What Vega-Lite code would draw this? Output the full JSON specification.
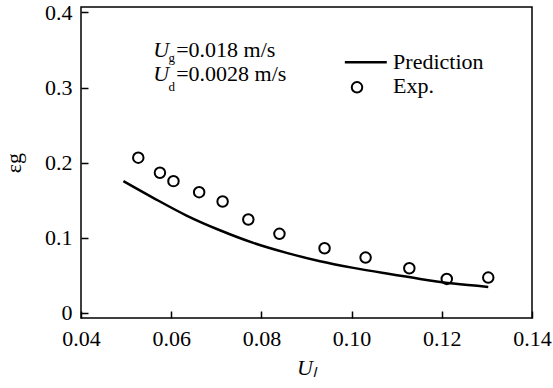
{
  "$schema": "https://vega.github.io/schema/vega-lite/v6.json",
  "width": 451,
  "height": 311,
  "autosize": {"type": "none"},
  "padding": {"left": 81, "top": 7, "right": 21, "bottom": 70},
  "background": "white",
  "config": {
    "view": {"stroke": "#000", "strokeWidth": 1.5},
    "font": "Liberation Serif"
  },
  "datasets": {
    "exp": [
      {"x": 0.0527, "y": 0.2067},
      {"x": 0.0575, "y": 0.1867},
      {"x": 0.0605, "y": 0.1755},
      {"x": 0.0662, "y": 0.1608},
      {"x": 0.0714, "y": 0.1484},
      {"x": 0.0771, "y": 0.1244},
      {"x": 0.0840, "y": 0.1053},
      {"x": 0.0940, "y": 0.0861},
      {"x": 0.1031, "y": 0.0737},
      {"x": 0.1128, "y": 0.0595},
      {"x": 0.1211, "y": 0.0453},
      {"x": 0.1303, "y": 0.0471}
    ],
    "pred": [
      {"x": 0.0494, "y": 0.1755},
      {"x": 0.0560, "y": 0.1533},
      {"x": 0.0634, "y": 0.1297},
      {"x": 0.0708, "y": 0.1101},
      {"x": 0.0782, "y": 0.0933},
      {"x": 0.0856, "y": 0.0800},
      {"x": 0.0930, "y": 0.0688},
      {"x": 0.1004, "y": 0.0600},
      {"x": 0.1078, "y": 0.0524},
      {"x": 0.1152, "y": 0.0453},
      {"x": 0.1226, "y": 0.0391},
      {"x": 0.1303, "y": 0.0347}
    ],
    "legendLine": [{"x": 0.0985, "x2": 0.1078, "y": 0.3337}],
    "legendDot": [{"x": 0.1012, "y": 0.3004}],
    "italicText": [
      {"x": 0.0560, "y": 0.3404, "t": "U"},
      {"x": 0.0560, "y": 0.3088, "t": "U"}
    ],
    "subText": [
      {"x": 0.0594, "y": 0.3337, "t": "g"},
      {"x": 0.0594, "y": 0.2951, "t": "d"}
    ],
    "plainText": [
      {"x": 0.0611, "y": 0.3404, "t": "=0.018 m/s"},
      {"x": 0.0611, "y": 0.3088, "t": "=0.0028 m/s"},
      {"x": 0.1092, "y": 0.3253, "t": "Prediction"},
      {"x": 0.1092, "y": 0.2933, "t": "Exp."}
    ]
  },
  "encoding": {
    "x": {
      "field": "x",
      "type": "quantitative",
      "scale": {"domain": [0.04, 0.14], "nice": false, "zero": false},
      "axis": {
        "values": [0.04, 0.06, 0.08, 0.10, 0.12, 0.14],
        "format": ".2f",
        "grid": false,
        "domain": false,
        "ticks": true,
        "tickColor": "#000",
        "tickWidth": 1.5,
        "tickSize": -7,
        "labelPadding": 17,
        "labelFont": "Liberation Serif",
        "labelFontSize": 22,
        "labelColor": "#000",
        "labelFlush": false,
        "labelOverlap": false,
        "title": "Uₗ",
        "titleFont": "Liberation Serif",
        "titleFontSize": 22,
        "titleFontWeight": "normal",
        "titleFontStyle": "italic",
        "titleColor": "#000",
        "titlePadding": 8
      }
    },
    "y": {
      "field": "y",
      "type": "quantitative",
      "scale": {"domain": [-0.0067, 0.4073], "nice": false, "zero": false},
      "axis": {
        "values": [0, 0.1, 0.2, 0.3, 0.4],
        "format": ".1~f",
        "grid": false,
        "domain": false,
        "ticks": true,
        "tickColor": "#000",
        "tickWidth": 1.5,
        "tickSize": -7,
        "labelPadding": 16,
        "labelFont": "Liberation Serif",
        "labelFontSize": 22,
        "labelColor": "#000",
        "labelFlush": false,
        "labelOverlap": false,
        "title": "εg",
        "titleFont": "Liberation Serif",
        "titleFontSize": 22,
        "titleFontWeight": "normal",
        "titleColor": "#000",
        "titlePadding": 19
      }
    }
  },
  "layer": [
    {
      "data": {"name": "pred"},
      "mark": {"type": "line", "color": "#000", "strokeWidth": 2.5, "interpolate": "monotone"}
    },
    {
      "data": {"name": "exp"},
      "mark": {"type": "point", "shape": "circle", "filled": false, "color": "#000", "strokeWidth": 2, "size": 110, "opacity": 1}
    },
    {
      "data": {"name": "legendLine"},
      "mark": {"type": "rule", "color": "#000", "strokeWidth": 2.5},
      "encoding": {"x2": {"field": "x2"}}
    },
    {
      "data": {"name": "legendDot"},
      "mark": {"type": "point", "shape": "circle", "filled": false, "color": "#000", "strokeWidth": 2, "size": 110, "opacity": 1}
    },
    {
      "data": {"name": "italicText"},
      "mark": {"type": "text", "font": "Liberation Serif", "fontSize": 22, "fontStyle": "italic", "align": "left", "baseline": "alphabetic", "color": "#000"},
      "encoding": {"text": {"field": "t"}}
    },
    {
      "data": {"name": "subText"},
      "mark": {"type": "text", "font": "Liberation Serif", "fontSize": 13, "align": "left", "baseline": "alphabetic", "color": "#000"},
      "encoding": {"text": {"field": "t"}}
    },
    {
      "data": {"name": "plainText"},
      "mark": {"type": "text", "font": "Liberation Serif", "fontSize": 22, "align": "left", "baseline": "alphabetic", "color": "#000"},
      "encoding": {"text": {"field": "t"}}
    }
  ]
}
